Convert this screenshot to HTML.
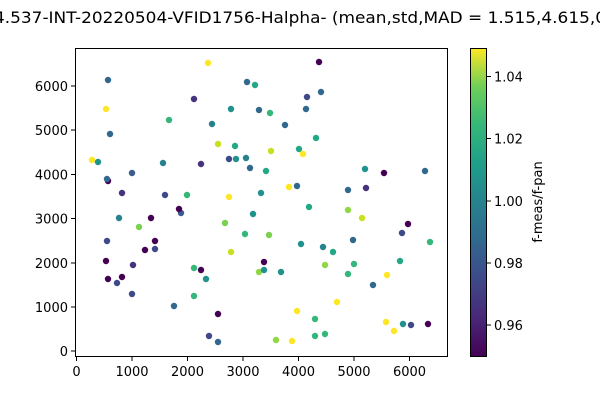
<!DOCTYPE html><html><head><style>body{margin:0;background:#fff}svg{display:block;font-family:"DejaVu Sans","Liberation Sans",sans-serif}</style></head><body>
<svg width="600" height="400" viewBox="0 0 600 400" xmlns="http://www.w3.org/2000/svg">
<defs><linearGradient id="vg" x1="0" y1="1" x2="0" y2="0">
<stop offset="0" stop-color="#440154"/><stop offset="0.125" stop-color="#482878"/><stop offset="0.25" stop-color="#3e4989"/><stop offset="0.375" stop-color="#31688e"/><stop offset="0.5" stop-color="#26828e"/><stop offset="0.625" stop-color="#1f9e89"/><stop offset="0.75" stop-color="#35b779"/><stop offset="0.875" stop-color="#6ece58"/><stop offset="1" stop-color="#fde725"/></linearGradient></defs>
<text x="300" y="23" font-size="16" text-anchor="middle" textLength="612" lengthAdjust="spacingAndGlyphs">4.537-INT-20220504-VFID1756-Halpha- (mean,std,MAD = 1.515,4.615,0</text>
<g id="pts">
<circle cx="208" cy="63" r="3.2" fill="#fde725"/><circle cx="108" cy="80" r="3.2" fill="#31688e"/><circle cx="247" cy="82" r="3.2" fill="#31688e"/><circle cx="255" cy="85" r="3.2" fill="#22a884"/><circle cx="194" cy="99" r="3.2" fill="#46327e"/><circle cx="106" cy="109" r="3.2" fill="#fde725"/><circle cx="231" cy="109" r="3.2" fill="#21918c"/><circle cx="259" cy="110" r="3.2" fill="#31688e"/><circle cx="169" cy="120" r="3.2" fill="#35b779"/><circle cx="212" cy="124" r="3.2" fill="#26828e"/><circle cx="110" cy="134" r="3.2" fill="#31688e"/><circle cx="218" cy="144" r="3.2" fill="#c8e020"/><circle cx="235" cy="146" r="3.2" fill="#22a884"/><circle cx="92" cy="160" r="3.2" fill="#fde725"/><circle cx="98" cy="162" r="3.2" fill="#21918c"/><circle cx="163" cy="163" r="3.2" fill="#26828e"/><circle cx="201" cy="164" r="3.2" fill="#46327e"/><circle cx="229" cy="159" r="3.2" fill="#3e4989"/><circle cx="236" cy="159" r="3.2" fill="#21918c"/><circle cx="246" cy="158" r="3.2" fill="#26828e"/><circle cx="250" cy="168" r="3.2" fill="#31688e"/><circle cx="132" cy="173" r="3.2" fill="#3b5b8c"/><circle cx="108" cy="181" r="3.2" fill="#440154"/><circle cx="107" cy="179" r="3.2" fill="#31688e"/><circle cx="122" cy="193" r="3.2" fill="#46327e"/><circle cx="165" cy="195" r="3.2" fill="#3e4989"/><circle cx="187" cy="195" r="3.2" fill="#35b779"/><circle cx="229" cy="197" r="3.2" fill="#fde725"/><circle cx="261" cy="193" r="3.2" fill="#21918c"/><circle cx="181" cy="213" r="3.2" fill="#3b5b8c"/><circle cx="179" cy="209" r="3.2" fill="#440154"/><circle cx="119" cy="218" r="3.2" fill="#26828e"/><circle cx="151" cy="218" r="3.2" fill="#440154"/><circle cx="253" cy="214" r="3.2" fill="#21918c"/><circle cx="139" cy="227" r="3.2" fill="#7ad151"/><circle cx="225" cy="223" r="3.2" fill="#7ad151"/><circle cx="245" cy="234" r="3.2" fill="#35b779"/><circle cx="107" cy="241" r="3.2" fill="#3e4989"/><circle cx="155" cy="241" r="3.2" fill="#440154"/><circle cx="145" cy="250" r="3.2" fill="#440154"/><circle cx="155" cy="249" r="3.2" fill="#3e4989"/><circle cx="231" cy="252" r="3.2" fill="#c8e020"/><circle cx="106" cy="261" r="3.2" fill="#440154"/><circle cx="133" cy="265" r="3.2" fill="#46327e"/><circle cx="194" cy="268" r="3.2" fill="#35b779"/><circle cx="201" cy="270" r="3.2" fill="#440154"/><circle cx="206" cy="279" r="3.2" fill="#21918c"/><circle cx="259" cy="272" r="3.2" fill="#90d743"/><circle cx="108" cy="279" r="3.2" fill="#440154"/><circle cx="122" cy="277" r="3.2" fill="#440154"/><circle cx="117" cy="283" r="3.2" fill="#3e4989"/><circle cx="132" cy="294" r="3.2" fill="#3e4989"/><circle cx="194" cy="296" r="3.2" fill="#35b779"/><circle cx="174" cy="306" r="3.2" fill="#31688e"/><circle cx="218" cy="314" r="3.2" fill="#440154"/><circle cx="209" cy="336" r="3.2" fill="#3e4989"/><circle cx="218" cy="342" r="3.2" fill="#31688e"/>
<circle cx="319" cy="62" r="3.2" fill="#440154"/><circle cx="321" cy="92" r="3.2" fill="#31688e"/><circle cx="307" cy="97" r="3.2" fill="#3e4989"/><circle cx="306" cy="109" r="3.2" fill="#31688e"/><circle cx="270" cy="113" r="3.2" fill="#35b779"/><circle cx="285" cy="125" r="3.2" fill="#31688e"/><circle cx="316" cy="138" r="3.2" fill="#22a884"/><circle cx="271" cy="151" r="3.2" fill="#c8e020"/><circle cx="299" cy="149" r="3.2" fill="#22a884"/><circle cx="303" cy="154" r="3.2" fill="#fde725"/><circle cx="266" cy="171" r="3.2" fill="#22a884"/><circle cx="365" cy="169" r="3.2" fill="#21918c"/><circle cx="384" cy="173" r="3.2" fill="#440154"/><circle cx="425" cy="171" r="3.2" fill="#31688e"/><circle cx="289" cy="187" r="3.2" fill="#fde725"/><circle cx="297" cy="186" r="3.2" fill="#31688e"/><circle cx="348" cy="190" r="3.2" fill="#31688e"/><circle cx="366" cy="188" r="3.2" fill="#46327e"/><circle cx="309" cy="207" r="3.2" fill="#22a884"/><circle cx="348" cy="210" r="3.2" fill="#90d743"/><circle cx="362" cy="218" r="3.2" fill="#c8e020"/><circle cx="408" cy="224" r="3.2" fill="#440154"/><circle cx="402" cy="233" r="3.2" fill="#3e4989"/><circle cx="430" cy="242" r="3.2" fill="#35b779"/><circle cx="269" cy="235" r="3.2" fill="#7ad151"/><circle cx="301" cy="244" r="3.2" fill="#21918c"/><circle cx="353" cy="240" r="3.2" fill="#31688e"/><circle cx="323" cy="247" r="3.2" fill="#26828e"/><circle cx="333" cy="252" r="3.2" fill="#22a884"/><circle cx="264" cy="262" r="3.2" fill="#440154"/><circle cx="264" cy="270" r="3.2" fill="#21918c"/><circle cx="281" cy="272" r="3.2" fill="#21918c"/><circle cx="325" cy="265" r="3.2" fill="#90d743"/><circle cx="354" cy="264" r="3.2" fill="#35b779"/><circle cx="400" cy="261" r="3.2" fill="#22a884"/><circle cx="348" cy="274" r="3.2" fill="#35b779"/><circle cx="387" cy="275" r="3.2" fill="#fde725"/><circle cx="373" cy="285" r="3.2" fill="#31688e"/><circle cx="337" cy="302" r="3.2" fill="#fde725"/><circle cx="297" cy="311" r="3.2" fill="#fde725"/><circle cx="315" cy="319" r="3.2" fill="#35b779"/><circle cx="386" cy="322" r="3.2" fill="#fde725"/><circle cx="403" cy="324" r="3.2" fill="#21918c"/><circle cx="411" cy="325" r="3.2" fill="#3e4989"/><circle cx="428" cy="324" r="3.2" fill="#440154"/><circle cx="394" cy="331" r="3.2" fill="#fde725"/><circle cx="315" cy="336" r="3.2" fill="#35b779"/><circle cx="325" cy="334" r="3.2" fill="#35b779"/><circle cx="276" cy="340" r="3.2" fill="#90d743"/><circle cx="292" cy="341" r="3.2" fill="#fde725"/>
</g>
<rect x="75.5" y="48.5" width="372" height="308" fill="none" stroke="#000" stroke-width="1"/>
<g stroke="#000" stroke-width="1">
<line x1="76.5" y1="357" x2="76.5" y2="361"/><line x1="132" y1="357" x2="132" y2="361"/><line x1="187.5" y1="357" x2="187.5" y2="361"/><line x1="243" y1="357" x2="243" y2="361"/><line x1="298.5" y1="357" x2="298.5" y2="361"/><line x1="354" y1="357" x2="354" y2="361"/><line x1="409.5" y1="357" x2="409.5" y2="361"/>
<line x1="71" y1="351" x2="75" y2="351"/><line x1="71" y1="307" x2="75" y2="307"/><line x1="71" y1="263" x2="75" y2="263"/><line x1="71" y1="218.5" x2="75" y2="218.5"/><line x1="71" y1="174.5" x2="75" y2="174.5"/><line x1="71" y1="130" x2="75" y2="130"/><line x1="71" y1="86" x2="75" y2="86"/>
</g>
<g font-size="13" text-anchor="middle">
<text x="76.5" y="376">0</text><text x="132" y="376">1000</text><text x="187.5" y="376">2000</text><text x="243" y="376">3000</text><text x="298.5" y="376">4000</text><text x="354" y="376">5000</text><text x="409.5" y="376">6000</text>
</g>
<g font-size="13" text-anchor="end">
<text x="68" y="356">0</text><text x="68" y="312">1000</text><text x="68" y="268">2000</text><text x="68" y="223.5">3000</text><text x="68" y="179.5">4000</text><text x="68" y="135">5000</text><text x="68" y="91">6000</text>
</g>
<rect x="470.5" y="48.5" width="16" height="308" fill="url(#vg)" stroke="#000" stroke-width="1"/>
<g stroke="#000"><line x1="487" y1="325" x2="491" y2="325"/><line x1="487" y1="263" x2="491" y2="263"/><line x1="487" y1="201" x2="491" y2="201"/><line x1="487" y1="138.5" x2="491" y2="138.5"/><line x1="487" y1="76.5" x2="491" y2="76.5"/></g>
<g font-size="13"><text x="494" y="330">0.96</text><text x="494" y="268">0.98</text><text x="494" y="206">1.00</text><text x="494" y="143.5">1.02</text><text x="494" y="81.5">1.04</text></g>
<text transform="translate(542,202) rotate(-90)" font-size="13" text-anchor="middle">f-meas/f-pan</text>
</svg>
</body></html>
